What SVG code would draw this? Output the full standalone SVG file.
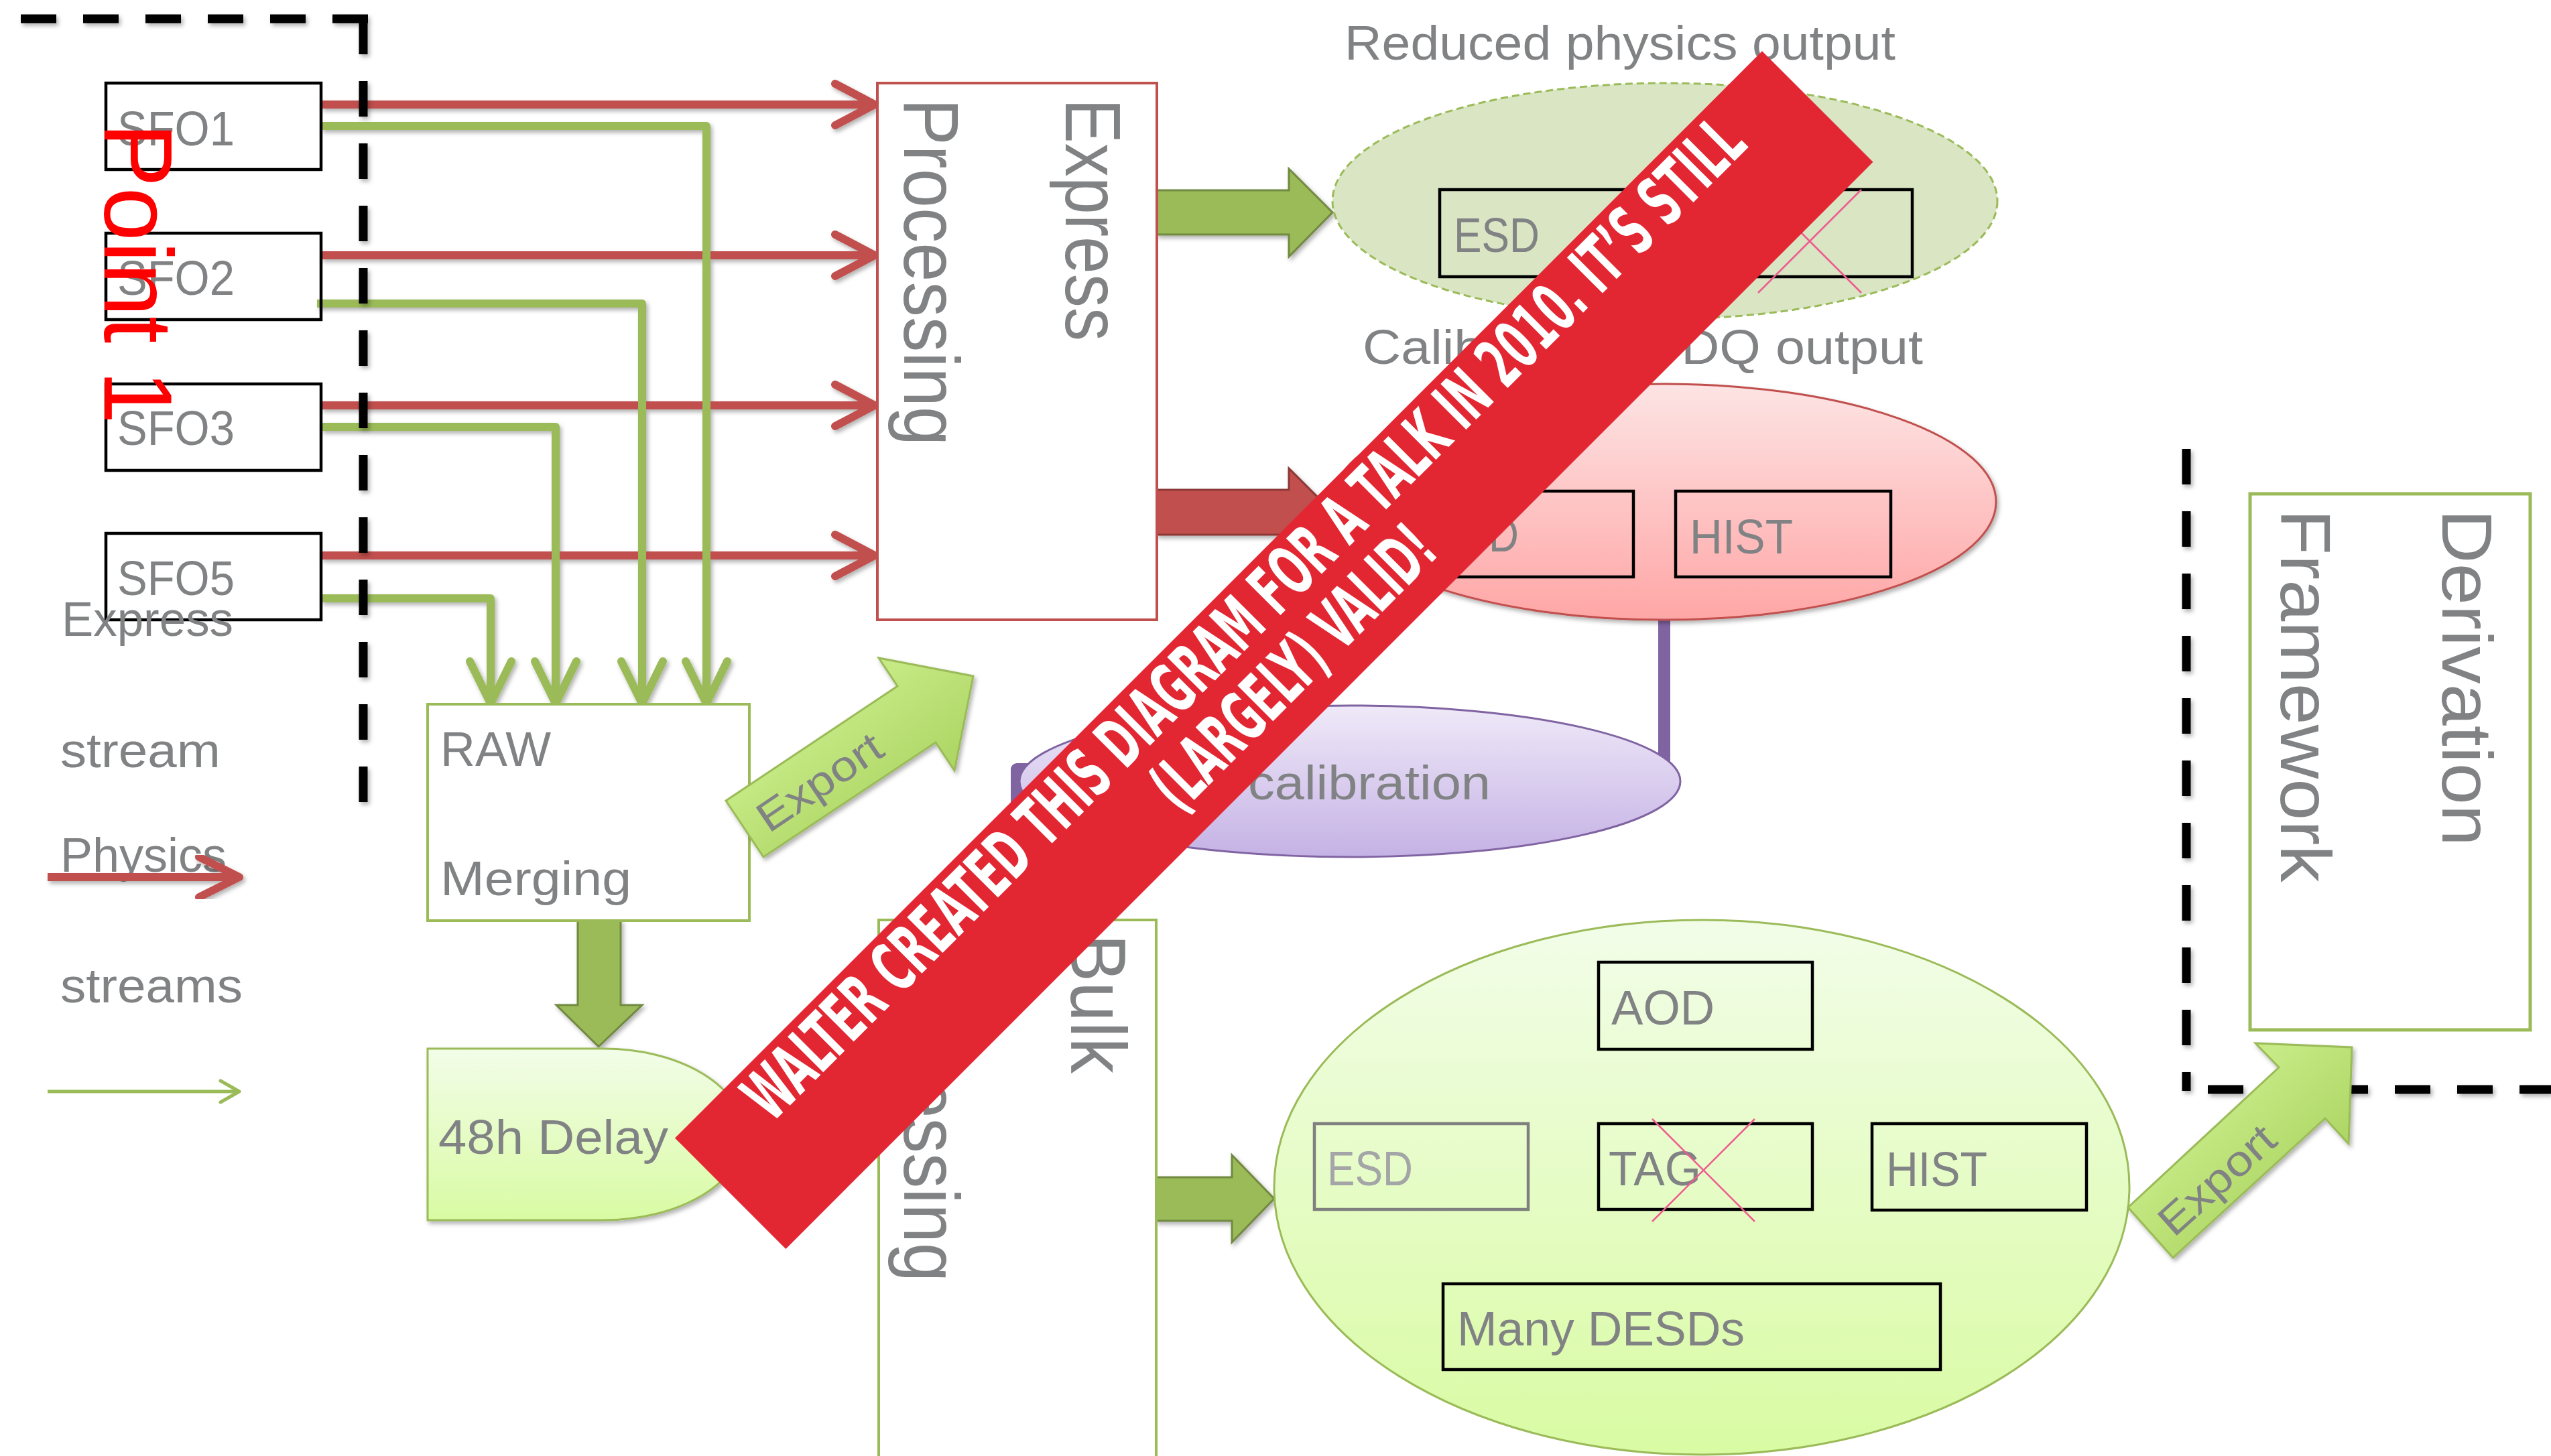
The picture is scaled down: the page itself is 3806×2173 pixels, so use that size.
<svg xmlns="http://www.w3.org/2000/svg" width="3806" height="2173" viewBox="0 0 3806 2173">
  <defs>
    <style>
      .lbl { font-family: "Liberation Sans", Arial, sans-serif; font-size: 73px; fill: #808284; }
      .big { font-family: "Liberation Sans", Arial, sans-serif; font-size: 117px; fill: #808284; }
      .box { fill: none; stroke: #000; stroke-width: 4.5; }
      .redln { fill: none; stroke: #C0504D; stroke-width: 12; }
      .redhd { fill: none; stroke: #C0504D; stroke-width: 12; stroke-linecap: round; stroke-linejoin: round; }
      .grnln { fill: none; stroke: #9BBB59; stroke-width: 12; stroke-linejoin: round; }
      .grnhd { fill: none; stroke: #9BBB59; stroke-width: 12; stroke-linecap: round; stroke-linejoin: round; }
      .dash { fill: none; stroke: #000; stroke-width: 13; stroke-dasharray: 53 40; }
      .cross { stroke: #EF5B8F; stroke-width: 2.5; }
      .banner { font-family: "DejaVu Sans Condensed", "Liberation Sans Narrow", "Liberation Sans", sans-serif; font-weight: bold; font-size: 103px; fill: #fff; }
    </style>
    <filter id="sh" x="-5%" y="-5%" width="110%" height="110%">
      <feDropShadow dx="3" dy="4" stdDeviation="3" flood-color="#000" flood-opacity="0.3"/>
    </filter>
    <linearGradient id="gPink" x1="0" y1="0" x2="0" y2="1">
      <stop offset="0" stop-color="#FDE4E4"/>
      <stop offset="1" stop-color="#FFA6A6"/>
    </linearGradient>
    <linearGradient id="gPurple" x1="0" y1="0" x2="0" y2="1">
      <stop offset="0" stop-color="#EFE9F8"/>
      <stop offset="1" stop-color="#C5B2E5"/>
    </linearGradient>
    <linearGradient id="gLime" x1="0" y1="0" x2="0" y2="1">
      <stop offset="0" stop-color="#F2FDE8"/>
      <stop offset="1" stop-color="#D9FBA3"/>
    </linearGradient>
    <linearGradient id="gExport" x1="0" y1="0" x2="1" y2="1">
      <stop offset="0" stop-color="#DCFBA2"/>
      <stop offset="1" stop-color="#9CC84D"/>
    </linearGradient>
  </defs>

  <rect width="3806" height="2173" fill="#fff"/>

  <!-- connectors -->
  <g id="connectors">
    <g filter="url(#sh)">
      <!-- express stream lines SFO -> Express Processing -->
      <path class="redln" d="M479 156 H1300 M479 381 H1300 M479 605 H1300 M479 829 H1300"/>
      <path class="redhd" d="M1246 125 L1305 156 L1246 187 M1246 350 L1305 381 L1246 412 M1246 574 L1305 605 L1246 636 M1246 798 L1305 829 L1246 860"/>
      <!-- physics stream lines SFO -> RAW Merging -->
      <path class="grnln" d="M479 188 H1054 V1044"/>
      <path class="grnln" d="M473 453 H958 V1044"/>
      <path class="grnln" d="M479 637 H829 V1044"/>
      <path class="grnln" d="M479 893 H732 V1044"/>
      <path class="grnhd" d="M1023 987 L1054 1050 L1085 987 M927 987 L958 1050 L989 987 M798 987 L829 1050 L860 987 M701 987 L732 1050 L763 987"/>
    </g>
    <!-- calibration link -->
    <path d="M2483 925 V1148 H1517 V1240" fill="none" stroke="#8064A2" stroke-width="18" stroke-linejoin="round"/>
    <!-- block arrows -->
    <g filter="url(#sh)">
      <path d="M1726 284 H1923 V252 L1988 317 L1923 383 V350 H1726 Z" fill="#9BBB59" stroke="#71893F" stroke-width="3"/>
      <path d="M1726 731 H1923 V699 L1988 764 L1923 830 V798 H1726 Z" fill="#C0504D" stroke="#8C3836" stroke-width="3"/>
      <path d="M1725 1757 H1838 V1724 L1901 1789 L1838 1854 V1822 H1725 Z" fill="#9BBB59" stroke="#71893F" stroke-width="3"/>
      <path d="M862 1374 V1500 H830 L893 1562 L958 1500 H926 V1374 Z" fill="#9BBB59" stroke="#71893F" stroke-width="3"/>
    </g>
  </g>

  <!-- Point 1 boundary and derivation boundary -->
  <g id="boundaries" filter="url(#sh)">
    <path class="dash" d="M31 28 H549"/>
    <path class="dash" d="M542 28 V1201"/>
    <path class="dash" d="M3262 670 V1628"/>
    <path class="dash" d="M3294 1626 H3806"/>
  </g>

  <!-- SFO nodes -->
  <g id="sfo1"><rect class="box" x="158" y="124" width="321" height="129"/><text class="lbl" x="175" y="217" textLength="175" lengthAdjust="spacingAndGlyphs">SFO1</text></g>
  <g id="sfo2"><rect class="box" x="158" y="348" width="321" height="129"/><text class="lbl" x="175" y="440" textLength="175" lengthAdjust="spacingAndGlyphs">SFO2</text></g>
  <g id="sfo3"><rect class="box" x="158" y="573" width="321" height="129"/><text class="lbl" x="175" y="664" textLength="175" lengthAdjust="spacingAndGlyphs">SFO3</text></g>
  <g id="sfo5"><rect class="box" x="158" y="796" width="321" height="129"/><text class="lbl" x="175" y="888" textLength="175" lengthAdjust="spacingAndGlyphs">SFO5</text></g>

  <!-- legend -->
  <g id="legend">
    <text class="lbl" x="92" y="949" textLength="256" lengthAdjust="spacingAndGlyphs">Express</text>
    <text class="lbl" x="90" y="1145" textLength="239" lengthAdjust="spacingAndGlyphs">stream</text>
    <text class="lbl" x="90" y="1301" textLength="248" lengthAdjust="spacingAndGlyphs">Physics</text>
    <text class="lbl" x="90" y="1496" textLength="272" lengthAdjust="spacingAndGlyphs">streams</text>
    <g filter="url(#sh)">
      <path class="redln" d="M71 1309 H352"/>
      <path class="redhd" d="M297 1279 L357 1309 L297 1339"/>
    </g>
    <path d="M71 1629 H354" fill="none" stroke="#9BBB59" stroke-width="5"/>
    <path d="M329 1613 L357 1629 L329 1645" fill="none" stroke="#9BBB59" stroke-width="5" stroke-linecap="round" stroke-linejoin="round"/>
  </g>

  <!-- Express Processing -->
  <g id="express-processing">
    <rect x="1309" y="124" width="417" height="801" fill="#fff" stroke="#C0504D" stroke-width="4"/>
    <text class="big" transform="translate(1590,147) rotate(90)" textLength="362" lengthAdjust="spacingAndGlyphs">Express</text>
    <text class="big" transform="translate(1349,147) rotate(90)" textLength="518" lengthAdjust="spacingAndGlyphs">Processing</text>
  </g>

  <!-- RAW Merging -->
  <g id="raw-merging">
    <rect x="638" y="1051" width="480" height="323" fill="#fff" stroke="#9BBB59" stroke-width="4"/>
    <text class="lbl" x="657" y="1143" textLength="165" lengthAdjust="spacingAndGlyphs">RAW</text>
    <text class="lbl" x="657" y="1336" textLength="285" lengthAdjust="spacingAndGlyphs">Merging</text>
  </g>

  <!-- 48h Delay -->
  <g id="delay">
    <path d="M638 1565 H900 A210 128 0 0 1 900 1821 H638 Z" fill="url(#gLime)" stroke="#9BBB59" stroke-width="3" filter="url(#sh)"/>
    <text class="lbl" x="654" y="1722" textLength="343" lengthAdjust="spacingAndGlyphs">48h Delay</text>
  </g>

  <!-- Bulk Processing -->
  <g id="bulk-processing">
    <rect x="1311" y="1373" width="414" height="820" fill="#fff" stroke="#9BBB59" stroke-width="4"/>
    <text class="big" transform="translate(1598,1394) rotate(90)" textLength="208" lengthAdjust="spacingAndGlyphs">Bulk</text>
    <text class="big" transform="translate(1349,1395) rotate(90)" textLength="518" lengthAdjust="spacingAndGlyphs">Processing</text>
  </g>

  <!-- Reduced physics output -->
  <g id="reduced-output">
    <text class="lbl" x="2006" y="89" textLength="822" lengthAdjust="spacingAndGlyphs">Reduced physics output</text>
    <ellipse cx="2484" cy="300" rx="496" ry="176" fill="#D9E5C3" stroke="#9BBB59" stroke-width="3" stroke-dasharray="11 6"/>
    <rect class="box" x="2148" y="283" width="705" height="130"/>
    <text class="lbl" x="2169" y="376" textLength="128" lengthAdjust="spacingAndGlyphs">ESD</text>
    <path class="cross" d="M2623 283 L2777 437 M2777 283 L2623 437"/>
  </g>

  <!-- Calibration and DQ output -->
  <g id="dq-output">
    <text class="lbl" x="2033" y="543" textLength="836" lengthAdjust="spacingAndGlyphs">Calibration &amp; DQ output</text>
    <ellipse cx="2483" cy="749" rx="495" ry="176" fill="url(#gPink)" stroke="#C0504D" stroke-width="3" filter="url(#sh)"/>
    <rect class="box" x="2117" y="733" width="320" height="128"/>
    <text class="lbl" x="2138" y="823" textLength="128" lengthAdjust="spacingAndGlyphs">ESD</text>
    <rect class="box" x="2500" y="733" width="321" height="128"/>
    <text class="lbl" x="2521" y="826" textLength="154" lengthAdjust="spacingAndGlyphs">HIST</text>
  </g>

  <!-- calibration -->
  <g id="calibration">
    <ellipse cx="2014" cy="1166" rx="493" ry="113" fill="url(#gPurple)" stroke="#8064A2" stroke-width="3"/>
    <text class="lbl" x="1862" y="1193" textLength="362" lengthAdjust="spacingAndGlyphs">calibration</text>
  </g>

  <!-- Bulk outputs -->
  <g id="bulk-output">
    <ellipse cx="2539" cy="1772" rx="638" ry="399" fill="url(#gLime)" stroke="#9BBB59" stroke-width="3"/>
    <rect class="box" x="2385" y="1436" width="319" height="130"/>
    <text class="lbl" x="2404" y="1529" textLength="154" lengthAdjust="spacingAndGlyphs">AOD</text>
    <rect x="1961" y="1677" width="319" height="128" fill="none" stroke="#7F7F7F" stroke-width="4.5"/>
    <text class="lbl" x="1980" y="1769" textLength="128" lengthAdjust="spacingAndGlyphs" style="fill:#A3A5A6">ESD</text>
    <rect class="box" x="2385" y="1677" width="319" height="128"/>
    <text class="lbl" x="2400" y="1769" textLength="138" lengthAdjust="spacingAndGlyphs">TAG</text>
    <path class="cross" d="M2465 1670 L2618 1823 M2618 1670 L2465 1823"/>
    <rect class="box" x="2793" y="1677" width="320" height="129"/>
    <text class="lbl" x="2814" y="1770" textLength="151" lengthAdjust="spacingAndGlyphs">HIST</text>
    <rect class="box" x="2153" y="1916" width="742" height="128"/>
    <text class="lbl" x="2174" y="2008" textLength="429" lengthAdjust="spacingAndGlyphs">Many DESDs</text>
  </g>

  <!-- Derivation Framework -->
  <g id="derivation-framework">
    <rect x="3357" y="737" width="418" height="800" fill="#fff" stroke="#9BBB59" stroke-width="5"/>
    <text class="lbl" style="font-size:106px" transform="translate(3644,760) rotate(90)" textLength="503" lengthAdjust="spacingAndGlyphs">Derivation</text>
    <text class="lbl" style="font-size:106px" transform="translate(3403,760) rotate(90)" textLength="557" lengthAdjust="spacingAndGlyphs">Framework</text>
  </g>

  <!-- Export arrows -->
  <g id="export-raw">
    <polygon points="1083,1195 1339,1024 1311,982 1452,1009 1424,1150 1396,1108 1139,1279" fill="url(#gExport)" stroke="#9BBB59" stroke-width="3" filter="url(#sh)"/>
    <text class="lbl" style="font-size:63px" text-anchor="middle" transform="translate(1235,1185) rotate(-34)" textLength="212" lengthAdjust="spacingAndGlyphs">Export</text>
  </g>
  <g id="export-bulk">
    <polygon points="3175,1802 3400,1593 3365,1557 3509,1563 3504,1707 3469,1669 3242,1877" fill="url(#gExport)" stroke="#9BBB59" stroke-width="3" filter="url(#sh)"/>
    <text class="lbl" style="font-size:63px" text-anchor="middle" transform="translate(3322,1777) rotate(-42)" textLength="212" lengthAdjust="spacingAndGlyphs">Export</text>
  </g>

  <!-- Point 1 label -->
  <text id="point1" transform="translate(156,183) rotate(90)" style="font-family:'Liberation Sans',Arial,sans-serif;font-size:144px;fill:#FF0000" textLength="450" lengthAdjust="spacingAndGlyphs">Point 1</text>

  <!-- banner -->
  <g id="banner" transform="rotate(-45)">
    <rect x="-489" y="1913" width="2294" height="234" fill="#E22733"/>
    <text class="banner" x="-372" y="2000" textLength="2063" lengthAdjust="spacingAndGlyphs">WALTER CREATED THIS DIAGRAM FOR A TALK IN 2010. IT’S STILL</text>
    <text class="banner" x="385" y="2104" textLength="550" lengthAdjust="spacingAndGlyphs">(LARGELY) VALID!</text>
  </g>
</svg>
